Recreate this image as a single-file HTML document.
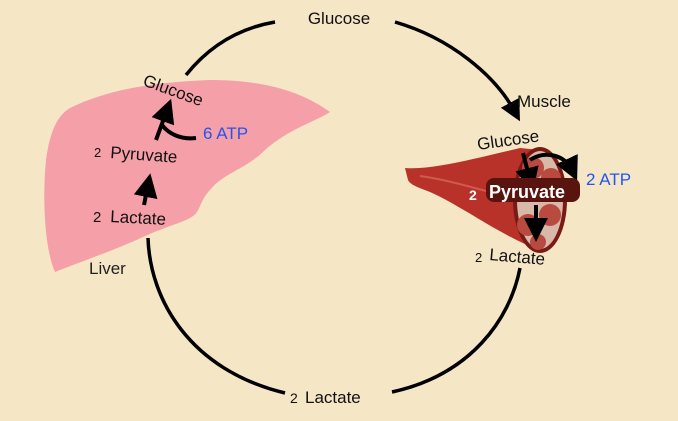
<!DOCTYPE html>
<html><head><style>
html,body{margin:0;padding:0;background:#f5e6c6;}
svg{display:block;font-family:"Liberation Sans",Arial,sans-serif;}
</style></head><body>
<svg width="678" height="421" viewBox="0 0 678 421">
<rect width="678" height="421" fill="#f5e6c6"/>
<defs>
<marker id="ah" markerWidth="6" markerHeight="6" refX="3" refY="3" orient="auto" markerUnits="strokeWidth">
<path d="M0,0 L6,3 L0,6 z" fill="#000"/></marker>
</defs>
<!-- liver -->
<path d="M70,108 C110,88 160,82 210,80 C260,80 300,90 330,112 C315,122 290,128 265,150 C245,170 225,172 210,190 C200,200 200,212 193,216 C185,222 170,225 145,236 C120,248 80,262 55,272 C45,250 42,200 46,160 C50,130 58,115 70,108 Z" fill="#f5a0a8"/>
<!-- big cycle arcs -->
<path d="M186,75 C210,45 240,28 275,22" fill="none" stroke="#000" stroke-width="3.5"/>
<path d="M395,22 C450,38 495,75 515,112" fill="none" stroke="#000" stroke-width="3.5" marker-end="url(#ah)"/>
<path d="M148,238 C150,300 190,370 285,393" fill="none" stroke="#000" stroke-width="3.5"/>
<path d="M392,392 C470,375 510,320 520,268" fill="none" stroke="#000" stroke-width="3.5"/>
<!-- liver arrows -->
<path d="M144,205 L148,185" stroke="#000" stroke-width="4" fill="none" marker-end="url(#ah)"/>
<path d="M156,140 L167,110" stroke="#000" stroke-width="4" fill="none" marker-end="url(#ah)"/>
<path d="M196,138 C180,140 168,133 162,125" stroke="#000" stroke-width="4" fill="none"/>
<!-- muscle -->
<path d="M405,168 C430,170 470,160 520,148 L540,150 L535,248 C500,235 460,205 430,192 C420,188 410,185 408,180 Z" fill="#b8322a"/>
<path d="M420,176 C450,180 480,190 520,200" stroke="#d05a50" stroke-width="2" fill="none"/>
<ellipse cx="540" cy="200" rx="27" ry="53" fill="#7a1a14"/>
<ellipse cx="540" cy="200" rx="23" ry="49" fill="#d8b8a8"/>
<circle cx="533" cy="168" r="11" fill="#b84a40"/><circle cx="551" cy="178" r="10" fill="#b84a40"/>
<circle cx="528" cy="225" r="11" fill="#b84a40"/><circle cx="550" cy="215" r="11" fill="#b84a40"/>
<circle cx="538" cy="242" r="8" fill="#b84a40"/>
<path d="M523,153 L530,180" stroke="#000" stroke-width="4" fill="none" marker-end="url(#ah)"/>
<path d="M530,160 C545,150 565,155 572,170" stroke="#000" stroke-width="4" fill="none" marker-end="url(#ah)"/>
<path d="M536,205 L536,230" stroke="#000" stroke-width="4" fill="none" marker-end="url(#ah)"/>
<rect x="486" y="178" width="94" height="24" rx="8" fill="#5a1410"/>
<!-- labels -->
<text x="339" y="24" font-size="17" text-anchor="middle" fill="#111">Glucose</text>
<text x="517" y="107" font-size="17" fill="#111">Muscle</text>
<text x="478" y="150" font-size="17" fill="#111" transform="rotate(-8 478 150)">Glucose</text>
<text x="469" y="200" font-size="14" fill="#fff" font-weight="bold">2</text>
<text x="489" y="198" font-size="18" fill="#fff" font-weight="bold">Pyruvate</text>
<text x="586" y="185" font-size="17" fill="#2255ee">2 ATP</text>
<text x="475" y="262" font-size="13" fill="#111">2</text>
<text x="489" y="260" font-size="17" fill="#111" transform="rotate(5 489 260)">Lactate</text>
<text x="142" y="85" font-size="17" fill="#111" transform="rotate(20 142 85)">Glucose</text>
<text x="203" y="139" font-size="17" fill="#2255ee">6 ATP</text>
<text x="94" y="157" font-size="13" fill="#111">2</text>
<text x="110" y="158" font-size="17" fill="#111" transform="rotate(4 110 158)">Pyruvate</text>
<text x="93" y="222" font-size="15" fill="#111">2</text>
<text x="110" y="222" font-size="17" fill="#111" transform="rotate(3 110 222)">Lactate</text>
<text x="89" y="274" font-size="17" fill="#222">Liver</text>
<text x="290" y="403" font-size="14" fill="#111">2</text>
<text x="305" y="403" font-size="17" fill="#111">Lactate</text>
</svg>
</body></html>
